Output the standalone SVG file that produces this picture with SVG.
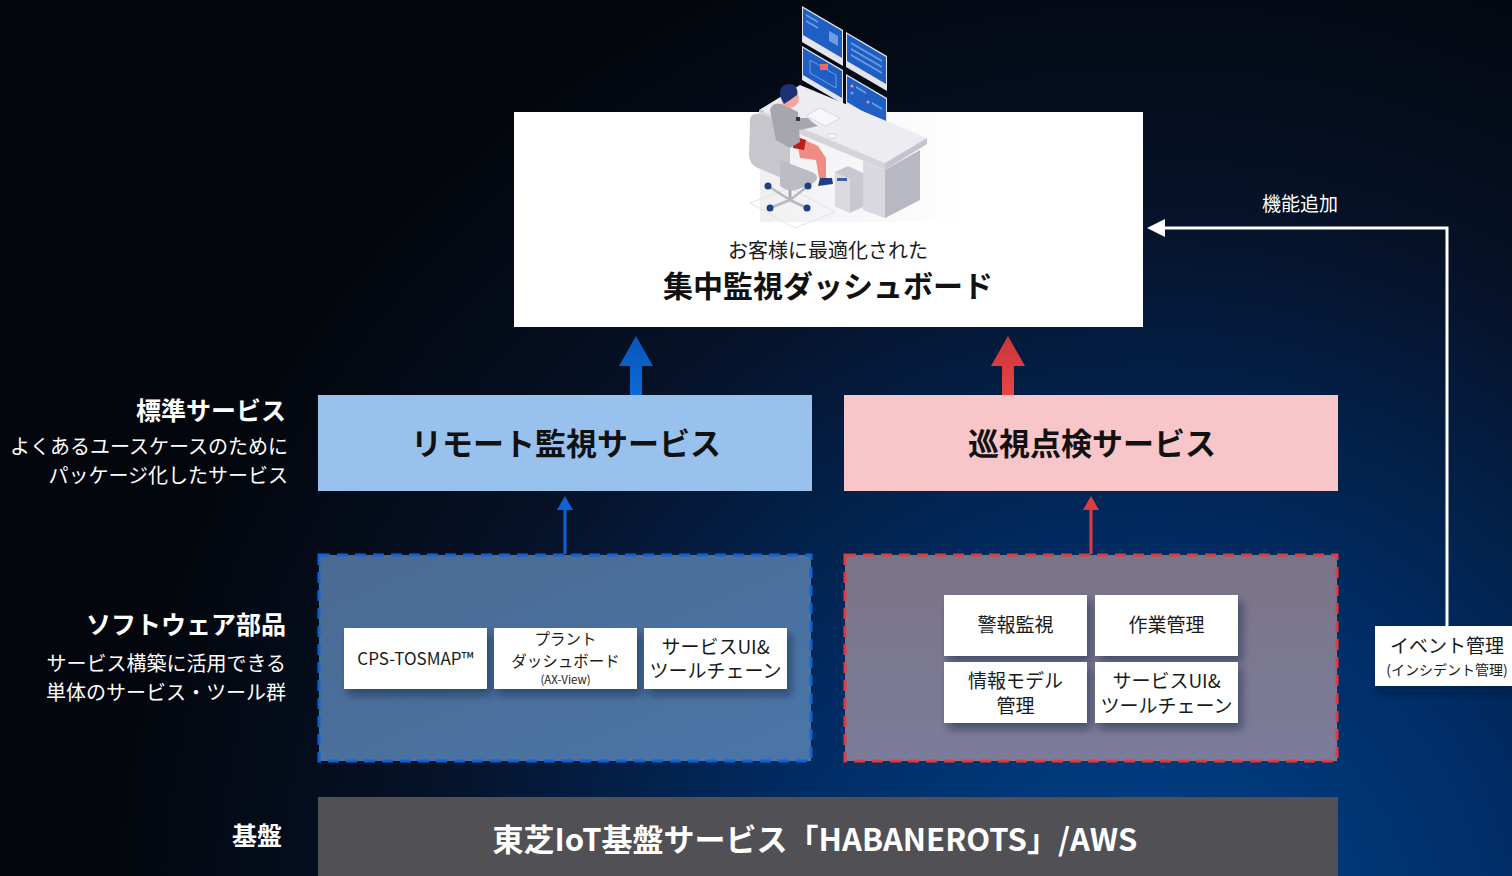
<svg xmlns="http://www.w3.org/2000/svg" width="1512" height="876" viewBox="0 0 1512 876">
  <defs>
    <radialGradient id="bg" cx="1150" cy="940" r="1050" gradientUnits="userSpaceOnUse">
      <stop offset="0" stop-color="#00448f"/>
      <stop offset="0.35" stop-color="#002d66"/>
      <stop offset="0.7" stop-color="#061228"/>
      <stop offset="1" stop-color="#03060c"/>
    </radialGradient>
    <linearGradient id="blueArrow" x1="0" y1="0" x2="0" y2="1">
      <stop offset="0" stop-color="#0a55b8"/>
      <stop offset="1" stop-color="#0a6ad8"/>
    </linearGradient>
    <linearGradient id="redArrow" x1="0" y1="0" x2="0" y2="1">
      <stop offset="0" stop-color="#c8363a"/>
      <stop offset="1" stop-color="#e84444"/>
    </linearGradient>
    <linearGradient id="blueGroup" x1="0" y1="0" x2="1" y2="1">
      <stop offset="0" stop-color="#4b6a92"/>
      <stop offset="1" stop-color="#4a76a8"/>
    </linearGradient>
    <linearGradient id="redGroup" x1="0" y1="0" x2="0" y2="1">
      <stop offset="0" stop-color="#7b7488"/>
      <stop offset="1" stop-color="#7b7c9a"/>
    </linearGradient>
    <linearGradient id="floorFade" x1="0" y1="0" x2="1" y2="0">
      <stop offset="0" stop-color="#ececf0"/>
      <stop offset="1" stop-color="#ffffff"/>
    </linearGradient>
    <filter id="shadow" x="-20%" y="-20%" width="150%" height="160%">
      <feDropShadow dx="4" dy="6" stdDeviation="4" flood-color="#0a1830" flood-opacity="0.45"/>
    </filter>
  </defs>
  <style>
    text { font-family: "Noto Sans CJK JP", "Noto Sans", sans-serif; }
    .lbl-h { font-size: 25px; font-weight: 700; fill: #ffffff; text-anchor: end; }
    .lbl-s { font-size: 20px; fill: #ffffff; text-anchor: end; }
    .svc { font-size: 31px; font-weight: 700; fill: #111111; text-anchor: middle; }
    .part { fill: #ffffff; filter: url(#shadow); }
    .part-t { font-size: 19px; fill: #1a1a1a; text-anchor: middle; }
    .part-s { font-size: 17px; fill: #1a1a1a; text-anchor: middle; }
    .part-xs { font-size: 15.5px; fill: #1a1a1a; text-anchor: middle; }
    .dash-b { fill: url(#blueGroup); stroke: #0e63d6; stroke-width: 3; stroke-dasharray: 11 7; }
    .dash-r { fill: url(#redGroup); stroke: #e03c40; stroke-width: 3; stroke-dasharray: 11 7; }
    .link { fill: none; stroke: #ffffff; stroke-width: 3; }
    .bezel { fill: #e4e4ea; }
    .screen { fill: #1f5fc4; }
    .ui { fill: #6f9be0; }
  </style>

  <!-- background -->
  <rect x="0" y="0" width="1512" height="876" fill="url(#bg)"/>

  <!-- side labels -->
  <g id="label-standard">
    <text class="lbl-h" x="286" y="420">標準サービス</text>
    <text class="lbl-s" x="288" y="454">よくあるユースケースのために</text>
    <text class="lbl-s" x="288" y="483">パッケージ化したサービス</text>
  </g>
  <g id="label-parts">
    <text class="lbl-h" x="286" y="634">ソフトウェア部品</text>
    <text class="lbl-s" x="286" y="671">サービス構築に活用できる</text>
    <text class="lbl-s" x="286" y="700">単体のサービス・ツール群</text>
  </g>
  <g id="label-base">
    <text class="lbl-h" x="282" y="845">基盤</text>
  </g>

  <!-- dashboard -->
  <g id="dashboard">
    <rect x="514" y="112" width="629" height="215" fill="#ffffff"/>
    <!-- operator at a multi-monitor desk -->
    <g id="operator-illustration">
      <rect x="760" y="112" width="205" height="110" fill="url(#floorFade)" opacity="0.8"/>
      <!-- floor mat -->
      <polygon points="750,203 790,188 835,212 795,228" fill="none" stroke="#e2e2e8" stroke-width="1"/>
      <!-- monitors -->
      <polygon class="bezel" points="802,6 843,30 843,66 802,42"/>
      <polygon class="screen" points="803,8 842,31 842,58 803,35"/>
      <polygon class="ui" points="806,14 818,21 818,23 806,16"/>
      <polygon class="ui" points="806,20 818,27 818,29 806,22"/>
      <polygon class="ui" points="829,31 838,36 838,46 829,41"/>
      <polygon class="bezel" points="846,32 887,56 887,91 846,67"/>
      <polygon class="screen" points="847,34 886,57 886,84 847,61"/>
      <polygon class="ui" points="851,42 882,60 882,62 851,44"/>
      <polygon class="ui" points="851,48 882,66 882,68 851,50"/>
      <polygon class="ui" points="851,54 882,72 882,74 851,56"/>
      <polygon class="bezel" points="802,46 843,70 843,104 802,80"/>
      <polygon class="screen" points="803,48 842,71 842,98 803,75"/>
      <polygon points="810,60 836,75 836,88 810,73" fill="none" stroke="#6f9be0" stroke-width="1"/>
      <rect x="820" y="64" width="8" height="6" fill="#e86a6a"/>
      <polygon class="bezel" points="846,74 887,98 887,131 846,107"/>
      <polygon class="screen" points="847,76 886,99 886,125 847,102"/>
      <circle cx="852" cy="86" r="1.6" fill="#f08c84"/>
      <circle cx="852" cy="93" r="1.6" fill="#6f9be0"/>
      <circle cx="868" cy="102" r="1.6" fill="#f08c84"/>
      <polygon class="ui" points="856,86 866,92 866,94 856,88"/>
      <polygon class="ui" points="872,102 882,108 882,110 872,104"/>
      <rect x="820" y="98" width="5" height="10" fill="#c8c8d0"/>
      <rect x="864" y="122" width="5" height="10" fill="#c8c8d0"/>
      <!-- desk -->
      <polygon points="759,110 800,85 927,138 885,163" fill="#ededf1"/>
      <polygon points="759,110 885,163 885,170 759,117" fill="#d4d4da"/>
      <polygon points="885,163 927,138 927,144 885,170" fill="#c4c4cc"/>
      <polygon points="863,161 885,170 885,218 863,210" fill="#d8d8de"/>
      <polygon points="885,170 920,150 920,200 885,218" fill="#b8b8c2"/>
      <!-- keyboard and mouse -->
      <polygon points="806,116 820,108 840,118 826,126" fill="#f8f8fb" stroke="#d0d0d8" stroke-width="0.8"/>
      <ellipse cx="832" cy="136" rx="5" ry="2.5" fill="#f4f4f8" stroke="#cfcfd6" stroke-width="0.8"/>
      <!-- computer tower -->
      <polygon points="835,172 848,166 863,173 863,207 850,213 835,206" fill="#c8c8d0"/>
      <polygon points="835,172 850,179 850,213 835,206" fill="#dadae0"/>
      <rect x="837" y="178" width="10" height="3" fill="#3a5fa8"/>
      <!-- chair -->
      <path d="M750,125 Q748,112 760,114 L782,122 Q790,126 790,138 L790,172 Q790,180 782,178 L758,168 Q749,164 749,155 Z" fill="#c6c6cc"/>
      <path d="M780,160 L812,172 Q822,177 812,184 L796,190 Q788,192 780,186 Z" fill="#bcbcc4"/>
      <line x1="790" y1="190" x2="790" y2="200" stroke="#a8a8b2" stroke-width="3"/>
      <g stroke="#b8b8c2" stroke-width="2.5">
        <line x1="790" y1="200" x2="768" y2="186"/>
        <line x1="790" y1="200" x2="808" y2="186"/>
        <line x1="790" y1="200" x2="770" y2="208"/>
        <line x1="790" y1="200" x2="807" y2="208"/>
      </g>
      <g fill="#1c3f86">
        <circle cx="768" cy="186" r="3.5"/>
        <circle cx="808" cy="186" r="3.5"/>
        <circle cx="770" cy="208" r="3.5"/>
        <circle cx="807" cy="208" r="3.5"/>
      </g>
      <!-- person -->
      <path d="M796,136 L818,146 L826,158 L826,178 L819,178 L816,160 L800,158 Z" fill="#f08c84"/>
      <path d="M793,136 L806,140 L804,150 L793,148 Z" fill="#b82020"/>
      <path d="M820,178 L832,178 L833,184 L818,186 Z" fill="#1c3f86"/>
      <path d="M770,110 Q772,102 782,104 L798,112 L800,142 L790,148 L776,140 Z" fill="#a6a6ae"/>
      <path d="M790,118 L808,118 L812,122 L794,126 Z" fill="#a6a6ae"/>
      <rect x="796" y="117" width="4" height="4" fill="#333840"/>
      <path d="M794,124 L812,122 L818,126 L800,130 Z" fill="#a6a6ae"/>
      <ellipse cx="790" cy="98" rx="9" ry="10" fill="#f3a69c"/>
      <path d="M780,96 Q779,84 790,84 Q799,85 797,95 L790,100 L784,104 Z" fill="#1c3272"/>
    </g>
    <text x="828" y="258" font-size="20" fill="#1a1a1a" text-anchor="middle">お客様に最適化された</text>
    <text x="828" y="297" font-size="30" font-weight="700" fill="#111111" text-anchor="middle">集中監視ダッシュボード</text>
  </g>

  <!-- standard services -->
  <g id="remote-service">
    <rect x="318" y="395" width="494" height="96" fill="#99c1ed"/>
    <text class="svc" x="566" y="455">リモート監視サービス</text>
  </g>
  <g id="patrol-service">
    <rect x="844" y="395" width="494" height="96" fill="#f8c6c8"/>
    <text class="svc" x="1092" y="455">巡視点検サービス</text>
  </g>

  <!-- software part groups -->
  <g id="remote-parts">
    <rect class="dash-b" x="319" y="555" width="492" height="206"/>
    <g id="part-cps-tosmap">
      <rect class="part" x="344" y="628" width="143" height="61"/>
      <text class="part-s" x="415.5" y="665">CPS-TOSMAP™</text>
    </g>
    <g id="part-plant-dashboard">
      <rect class="part" x="494" y="628" width="143" height="61"/>
      <text class="part-xs" x="565.5" y="645">プラント</text>
      <text class="part-xs" x="565.5" y="667">ダッシュボード</text>
      <text x="565.5" y="684" font-size="11.5" fill="#1a1a1a" text-anchor="middle">(AX-View)</text>
    </g>
    <g id="part-service-ui-a">
      <rect class="part" x="644" y="628" width="143" height="61"/>
      <text class="part-t" x="715.5" y="654">サービスUI&amp;</text>
      <text class="part-t" x="715.5" y="678">ツールチェーン</text>
    </g>
  </g>

  <g id="patrol-parts">
    <rect class="dash-r" x="845" y="555" width="492" height="206"/>
    <g id="part-alarm">
      <rect class="part" x="944" y="595" width="143" height="61"/>
      <text class="part-t" x="1015.5" y="632">警報監視</text>
    </g>
    <g id="part-work">
      <rect class="part" x="1095" y="595" width="143" height="61"/>
      <text class="part-t" x="1166.5" y="632">作業管理</text>
    </g>
    <g id="part-info-model">
      <rect class="part" x="944" y="662" width="143" height="61"/>
      <text class="part-t" x="1015.5" y="688">情報モデル</text>
      <text class="part-t" x="1015.5" y="713">管理</text>
    </g>
    <g id="part-service-ui-b">
      <rect class="part" x="1095" y="662" width="143" height="61"/>
      <text class="part-t" x="1166.5" y="688">サービスUI&amp;</text>
      <text class="part-t" x="1166.5" y="713">ツールチェーン</text>
    </g>
  </g>

  <g id="event-management">
    <rect class="part" x="1375" y="626" width="140" height="60"/>
    <text x="1447" y="653" font-size="19" fill="#1a1a1a" text-anchor="middle">イベント管理</text>
    <text x="1447" y="675" font-size="14" fill="#1a1a1a" text-anchor="middle">(インシデント管理)</text>
  </g>

  <!-- platform -->
  <g id="platform">
    <rect x="318" y="797" width="1020" height="79" fill="#505055"/>
    <text x="815" y="851" font-size="31" font-weight="700" fill="#ffffff" text-anchor="middle">東芝IoT基盤サービス「HABANEROTS」/AWS</text>
  </g>

  <!-- connectors -->
  <g id="connectors">
    <polygon points="619,366 636,336 653,366 642,366 642,395 630,395 630,366" fill="url(#blueArrow)"/>
    <polygon points="991,366 1008,336 1025,366 1014,366 1014,395 1002,395 1002,366" fill="url(#redArrow)"/>
    <line x1="565" y1="554" x2="565" y2="508" stroke="#0e63d6" stroke-width="3"/>
    <polygon points="557,510 565,496 573,510" fill="#0e63d6"/>
    <line x1="1091" y1="554" x2="1091" y2="508" stroke="#e03c40" stroke-width="3"/>
    <polygon points="1083,510 1091,496 1099,510" fill="#e03c40"/>
    <polyline class="link" points="1447,626 1447,228 1162,228"/>
    <polygon points="1147,228 1165,219 1165,237" fill="#ffffff"/>
    <text x="1300" y="211" font-size="19" fill="#ffffff" text-anchor="middle">機能追加</text>
  </g>
</svg>
